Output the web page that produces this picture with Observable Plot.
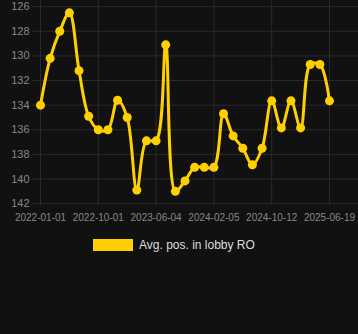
<!DOCTYPE html>
<html>
<head>
<meta charset="utf-8">
<script src="https://cdn.jsdelivr.net/npm/d3@7"></script>
<script src="https://cdn.jsdelivr.net/npm/@observablehq/plot@0.6"></script>
<style>
  html, body { margin: 0; padding: 0; background: #111111; }
  body { width: 358px; height: 334px; overflow: hidden; font-family: "Liberation Sans", Arial, sans-serif; }
  #legend { display: flex; align-items: center; margin-top: 10px; margin-left: 93px; color: #dddddd; font-size: 12px; }
  #legend .sw { width: 40px; height: 12px; background: #FFD000; margin-right: 6px; }
</style>
</head>
<body>
<div id="chart"></div>
<div id="legend"><div class="sw"></div><span>Avg. pos. in lobby RO</span></div>
<script>
const seriesName = "Avg. pos. in lobby RO";
const values = [134.0, 130.2, 128.0, 126.5, 131.2, 134.9, 136.0, 136.0, 133.6, 135.0,
  140.9, 136.9, 136.9, 129.1, 141.0, 140.15, 139.05, 139.05, 139.05, 134.7,
  136.5, 137.5, 138.85, 137.5, 133.65, 135.85, 133.65, 135.85, 130.7, 130.7, 133.65];
const tickIndex = [0, 6, 12, 18, 24, 30];
const tickLabels = ["2022-01-01", "2022-10-01", "2023-06-04", "2024-02-05", "2024-10-12", "2025-06-19"];
const yTicks = [126, 128, 130, 132, 134, 136, 138, 140, 142];

const data = values.map((v, i) => ({i, v}));
const color = "#FFD000";

const chart = Plot.plot({
  width: 358,
  height: 228,
  marginLeft: 32,
  marginRight: 0,
  marginTop: 0,
  marginBottom: 23,
  style: {background: "#111111", color: "#888888", fontFamily: "Liberation Sans, Arial, sans-serif"},
  x: {type: "linear", domain: [0, 30], insetLeft: 8, insetRight: 29, label: null},
  y: {domain: [125.5, 142.15], reverse: true, label: null},
  marks: [
    Plot.gridY(yTicks, {stroke: "#2b2b2b", strokeOpacity: 1}),
    Plot.gridX(tickIndex, {stroke: "#2b2b2b", strokeOpacity: 1}),
    Plot.axisY(yTicks, {tickSize: 0, tickPadding: 3, fontSize: 11, fill: "#888888", label: null}),
    Plot.axisX(tickIndex, {tickSize: 0, tickPadding: 8, fontSize: 10, fill: "#888888", label: null,
      tickFormat: (d) => tickLabels[tickIndex.indexOf(d)]}),
    Plot.line(data, {x: "i", y: "v", stroke: color, strokeWidth: 3, curve: "catmull-rom"}),
    Plot.dot(data, {x: "i", y: "v", fill: color, r: 4.5})
  ]
});
document.getElementById("chart").appendChild(chart);
</script>
</body>
</html>
